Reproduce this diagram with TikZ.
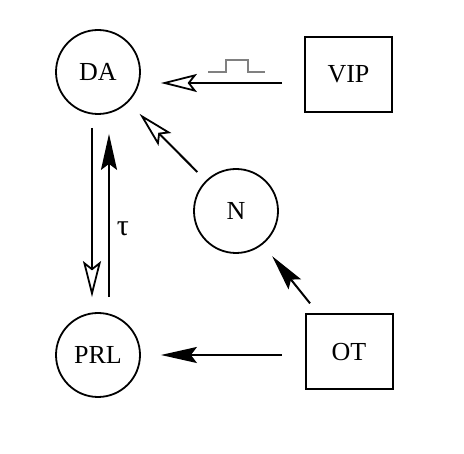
\documentclass[tikz,border=0pt]{standalone}
\usepackage{fontspec}
\setmainfont{Liberation Serif}
\usetikzlibrary{arrows.meta}
\begin{document}
\begin{tikzpicture}[x=1pt,y=1pt,
  every node/.style={font=\fontsize{26}{30}\selectfont},
  circ/.style={circle,draw,line width=1.8pt,minimum size=84pt,inner sep=0pt},
  boxnode/.style={rectangle,draw,line width=2pt,minimum width=87pt,minimum height=75pt,inner sep=0pt},
  conn/.style={line width=2pt},
  openhead/.style={conn,-{Stealth[length=36pt,width=18pt,inset=7pt,open,line width=1.8pt]}},
  fullhead/.style={conn,-{Stealth[length=36pt,width=16pt,inset=6pt]}}]
\useasboundingbox (0,0) rectangle (464,454);
\node[circ] (DA) at (98,382) {DA};
\node[boxnode] (VIP) at (348.5,379.5) {VIP};
\node[circ] (N) at (236,243) {N};
\node[circ] (PRL) at (98,99) {PRL};
\node[boxnode] (OT) at (349,102) {OT};
\node[font=\fontsize{30}{34}\selectfont] (tau) at (123,225) {τ};
% VIP -> DA
\draw[openhead,shorten <=22pt,shorten >=20pt] ([yshift=-8.5pt]VIP.west) -- ([yshift=-8.5pt]VIP.west -| DA.east);
% pulse
\draw[gray,line width=1.2pt] (208,382) -- (226,382) -- (226,394) -- (248,394) -- (248,382) -- (265,382);
% N -> DA
\draw[openhead,shorten <=12pt,shorten >=16pt] (N) -- (DA);
% OT -> N
\draw[fullhead,shorten <=13pt,shorten >=15pt] (OT) -- (N);
% OT -> PRL
\draw[fullhead,shorten <=23pt,shorten >=20pt] (OT.west |- PRL) -- (PRL.east);
% DA -> PRL
\draw[openhead,shorten <=13pt,shorten >=15pt] ([xshift=-6pt]DA.south) -- ([xshift=-6pt]PRL.north);
% PRL -> DA
\draw[fullhead,shorten <=15pt,shorten >=19pt] ([xshift=11pt]PRL.north) -- ([xshift=11pt]DA.south);
\end{tikzpicture}
\end{document}
